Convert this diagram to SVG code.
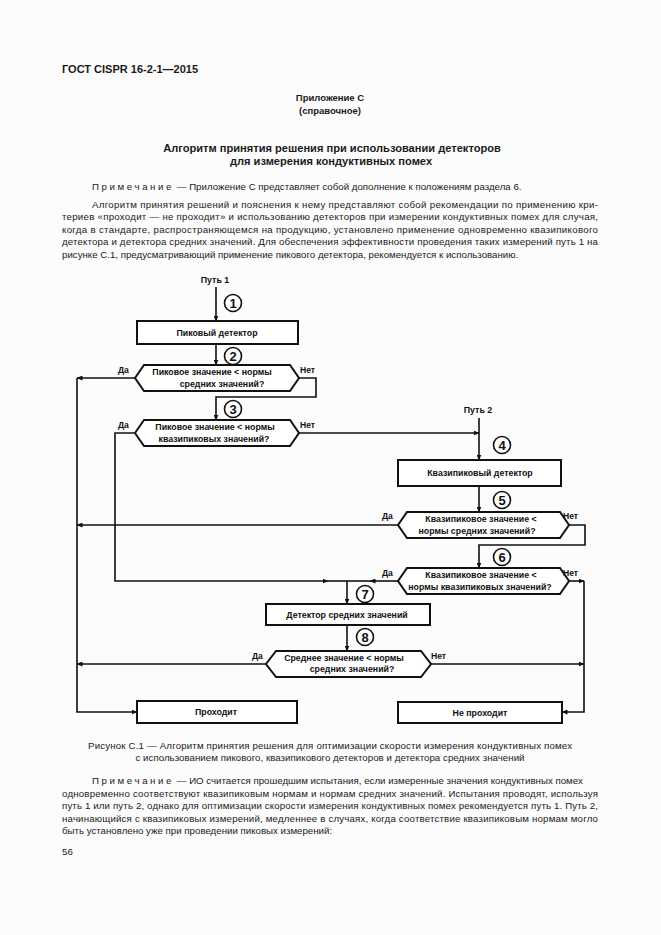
<svg xmlns="http://www.w3.org/2000/svg" width="661" height="935" viewBox="0 0 661 935">
<defs>
<style>
.bg{fill:#fcfcfc}
.t{font-family:"Liberation Sans",Arial,sans-serif;font-size:9.7px;fill:#1a1a1a}
.tb{font-family:"Liberation Sans",Arial,sans-serif;font-weight:bold;fill:#1a1a1a}
.n{font-family:"Liberation Sans",Arial,sans-serif;font-weight:bold;font-size:8.8px;fill:#111;text-anchor:middle}
.l{font-family:"Liberation Sans",Arial,sans-serif;font-weight:bold;font-size:8.6px;fill:#111}
.num{font-family:"Liberation Sans",Arial,sans-serif;font-weight:bold;font-size:13px;fill:#111;text-anchor:middle}
.box{fill:#fff;stroke:#111;stroke-width:2}
.cir{fill:#fff;stroke:#111;stroke-width:1.6}
.c{fill:none;stroke:#111;stroke-width:1.6}
.ca{fill:none;stroke:#111;stroke-width:1.6;marker-end:url(#a)}
</style>
<marker id="a" markerWidth="6" markerHeight="5" refX="5.5" refY="2.5" orient="auto" markerUnits="userSpaceOnUse"><path d="M0,0 L6,2.5 L0,5 z" fill="#111"/></marker>
</defs>
<rect class="bg" x="0" y="0" width="661" height="935"/>

<g id="page-text">
<text class="tb" x="62" y="73" font-size="11">ГОСТ CISPR 16-2-1—2015</text>
<text class="tb" x="330" y="101" font-size="9.5" text-anchor="middle">Приложение С</text>
<text class="tb" x="330" y="114" font-size="9.5" text-anchor="middle">(справочное)</text>
<text class="tb" x="332" y="152" font-size="11.1" text-anchor="middle">Алгоритм принятия решения при использовании детекторов</text>
<text class="tb" x="331" y="165" font-size="11.1" text-anchor="middle">для измерения кондуктивных помех</text>
<text class="t" x="92" y="190"><tspan letter-spacing="2.6">Примечание</tspan> — Приложение С представляет собой дополнение к положениям раздела 6.</text>
<text class="t" x="92" y="208" textLength="506" lengthAdjust="spacing">Алгоритм принятия решений и пояснения к нему представляют собой рекомендации по применению кри-</text>
<text class="t" x="62" y="220" textLength="536" lengthAdjust="spacing">териев «проходит — не проходит» и использованию детекторов при измерении кондуктивных помех для случая,</text>
<text class="t" x="62" y="233" textLength="536" lengthAdjust="spacing">когда в стандарте, распространяющемся на продукцию, установлено применение одновременно квазипикового</text>
<text class="t" x="62" y="245" textLength="536" lengthAdjust="spacing">детектора и детектора средних значений. Для обеспечения эффективности проведения таких измерений путь 1 на</text>
<text class="t" x="62" y="258">рисунке С.1, предусматривающий применение пикового детектора, рекомендуется к использованию.</text>
<text class="t" x="330" y="749" text-anchor="middle" textLength="484" lengthAdjust="spacing">Рисунок С.1 — Алгоритм принятия решения для оптимизации скорости измерения кондуктивных помех</text>
<text class="t" x="330" y="761" text-anchor="middle" textLength="389" lengthAdjust="spacing">с использованием пикового, квазипикового детекторов и детектора средних значений</text>
<text class="t" x="92" y="784"><tspan letter-spacing="2.6">Примечание</tspan> — ИО считается прошедшим испытания, если измеренные значения кондуктивных помех</text>
<text class="t" x="62" y="797" textLength="536" lengthAdjust="spacing">одновременно соответствуют квазипиковым нормам и нормам средних значений. Испытания проводят, используя</text>
<text class="t" x="62" y="809" textLength="536" lengthAdjust="spacing">путь 1 или путь 2, однако для оптимизации скорости измерения кондуктивных помех рекомендуется путь 1. Путь 2,</text>
<text class="t" x="62" y="822" textLength="536" lengthAdjust="spacing">начинающийся с квазипиковых измерений, медленнее в случаях, когда соответствие квазипиковым нормам могло</text>
<text class="t" x="62" y="834">быть установлено уже при проведении пиковых измерений:</text>
<text class="t" x="62" y="855">56</text>
</g>

<g id="connectors">
<path class="ca" d="M216 287 V321"/>
<path class="ca" d="M216 344 V365"/>
<path class="ca" d="M135 378 H77"/>
<path class="ca" d="M77 378 V712 H137"/>
<path class="ca" d="M299 378 H316 V397 H216 V420"/>
<path class="ca" d="M135 433 H115 V581 H328"/>
<path class="c" d="M328 581 H347"/>
<path class="ca" d="M299 433 H479"/>
<path class="ca" d="M479 418 V460"/>
<path class="ca" d="M479 486 V512"/>
<path class="ca" d="M398 525 H77"/>
<path class="ca" d="M569 525 H585 V545 H479 V568"/>
<path class="ca" d="M398 581 H370"/>
<path class="c" d="M370 581 H347"/>
<path class="ca" d="M347 581 V604"/>
<path class="ca" d="M569 581 H584"/>
<path class="ca" d="M584 581 V712 H562"/>
<path class="ca" d="M347 625 V651"/>
<path class="ca" d="M266 664 H77"/>
<path class="ca" d="M431 664 H584"/>
</g>

<g id="path1-label"><text class="n" x="215" y="283">Путь 1</text></g>
<g id="path2-label"><text class="n" x="478" y="413">Путь 2</text></g>

<g id="step1"><circle class="cir" cx="233" cy="303" r="8.5"/><text class="num" x="233" y="307.7">1</text></g>
<g id="step2"><circle class="cir" cx="233" cy="356" r="8.5"/><text class="num" x="233" y="360.7">2</text></g>
<g id="step3"><circle class="cir" cx="233" cy="409" r="8.5"/><text class="num" x="233" y="413.7">3</text></g>
<g id="step4"><circle class="cir" cx="502" cy="445" r="8.5"/><text class="num" x="502" y="449.7">4</text></g>
<g id="step5"><circle class="cir" cx="502" cy="500" r="8.5"/><text class="num" x="502" y="504.7">5</text></g>
<g id="step6"><circle class="cir" cx="502" cy="557" r="8.5"/><text class="num" x="502" y="561.7">6</text></g>
<g id="step7"><circle class="cir" cx="365" cy="594" r="8.5"/><text class="num" x="365" y="598.7">7</text></g>
<g id="step8"><circle class="cir" cx="365" cy="637" r="8.5"/><text class="num" x="365" y="641.7">8</text></g>

<g id="peak-detector"><rect class="box" x="137" y="321" width="161" height="23"/><text class="n" x="217" y="336">Пиковый детектор</text></g>

<g id="decision1">
<polygon class="box" points="135,378 144,365 290,365 299,378 290,391 144,391"/>
<text class="n" x="212" y="375">Пиковое значение &lt; нормы</text>
<text class="n" x="222" y="387">средних значений?</text>
<text class="l" x="118" y="373">Да</text><text class="l" x="300" y="373">Нет</text>
</g>

<g id="decision2">
<polygon class="box" points="135,433 144,420 290,420 299,433 290,446 144,446"/>
<text class="n" x="215" y="430">Пиковое значение &lt; нормы</text>
<text class="n" x="214" y="442">квазипиковых значений?</text>
<text class="l" x="118" y="428">Да</text><text class="l" x="300" y="428">Нет</text>
</g>

<g id="qp-detector"><rect class="box" x="398" y="460" width="163" height="26"/><text class="n" x="480" y="476">Квазипиковый детектор</text></g>

<g id="decision5">
<polygon class="box" points="398,525 407,512 560,512 569,525 560,538 407,538"/>
<text class="n" x="481" y="522">Квазипиковое значение &lt;</text>
<text class="n" x="477" y="534">нормы средних значений?</text>
<text class="l" x="382" y="519">Да</text><text class="l" x="563" y="519">Нет</text>
</g>

<g id="decision6">
<polygon class="box" points="398,581 407,568 560,568 569,581 560,594 407,594"/>
<text class="n" x="481" y="578">Квазипиковое значение &lt;</text>
<text class="n" x="480" y="590">нормы квазипиковых значений?</text>
<text class="l" x="382" y="576">Да</text><text class="l" x="563" y="576">Нет</text>
</g>

<g id="avg-detector"><rect class="box" x="266" y="604" width="164" height="21"/><text class="n" x="347" y="617.5">Детектор средних значений</text></g>

<g id="decision8">
<polygon class="box" points="266,664 276,651 421,651 431,664 421,677 276,677"/>
<text class="n" x="344" y="661">Среднее значение &lt; нормы</text>
<text class="n" x="352" y="672">средних значений?</text>
<text class="l" x="252" y="659">Да</text><text class="l" x="431" y="659">Нет</text>
</g>

<g id="pass"><rect class="box" x="137" y="701" width="160" height="22"/><text class="n" x="216" y="715">Проходит</text></g>
<g id="fail"><rect class="box" x="398" y="702" width="164" height="21"/><text class="n" x="480" y="715.5">Не проходит</text></g>
</svg>
